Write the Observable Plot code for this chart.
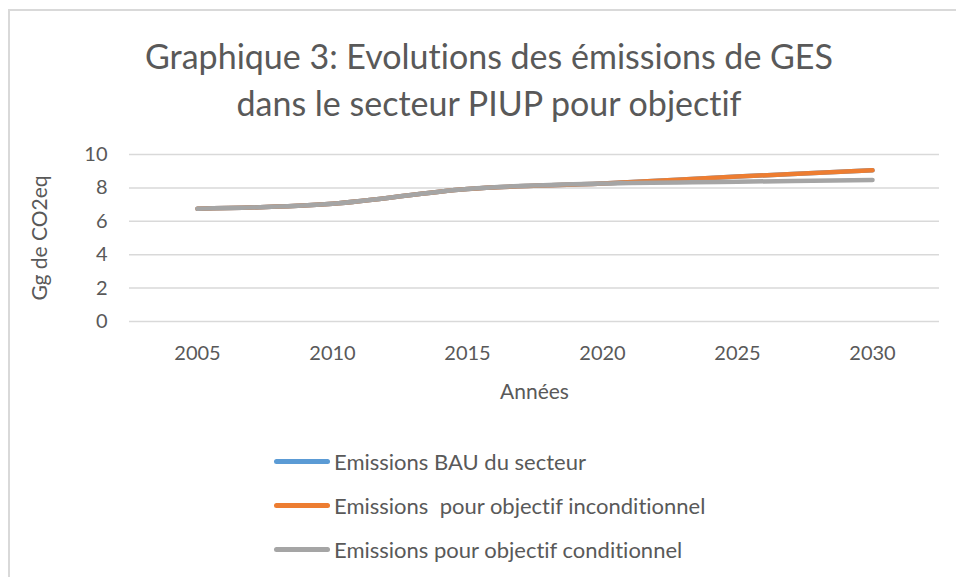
<!DOCTYPE html>
<html>
<head>
<meta charset="utf-8">
<script src="https://cdn.jsdelivr.net/npm/d3@7"></script>
<script src="https://cdn.jsdelivr.net/npm/@observablehq/plot@0.6"></script>
<style>
  html, body { margin: 0; padding: 0; background: #fff; }
  body { width: 956px; height: 577px; position: relative; overflow: hidden; font-family: Lato, "Open Sans", sans-serif; color: #595959; font-variant-ligatures: none; }
  #frame { position: absolute; left: 8px; top: 9px; width: 960px; height: 600px; border: 2px solid #d9d9d9; box-sizing: border-box; }
  #title { position: absolute; left: 0; width: 978px; top: 32px; text-align: center; font-size: 34px; line-height: 47px; color: #595959; }
  #chart { position: absolute; left: 0; top: 130px; }
  #chart svg text { font-variant-ligatures: none; }
  #chart svg g[aria-label="x-axis label"] text, #chart svg g[aria-label="y-axis label"] text { font-size: 21px; }
  #legend { position: absolute; left: 274px; top: 439px; font-size: 22px; color: #595959; }
  .row { display: flex; align-items: center; height: 44px; white-space: pre; }
  .sw { width: 56px; height: 5px; border-radius: 3px; margin-right: 4px; }
</style>
</head>
<body>
<div id="frame"></div>
<div id="title">Graphique 3: Evolutions des émissions de GES<br>dans le secteur PIUP pour objectif</div>
<div id="chart"></div>
<div id="legend"></div>
<script>
const years = ["2005", "2010", "2015", "2020", "2025", "2030"];
const bau = [6.75, 7.05, 7.94, 8.26, 8.68, 9.05];
const inconditionnel = [6.75, 7.05, 7.94, 8.26, 8.68, 9.05];
const conditionnel = [6.75, 7.05, 7.94, 8.26, 8.37, 8.48];
const seriesNames = ["Emissions BAU du secteur", "Emissions  pour objectif inconditionnel", "Emissions pour objectif conditionnel"];
const seriesColors = ["#5b9bd5", "#ed7d31", "#a5a5a5"];
const yTicks = [0, 2, 4, 6, 8, 10];

const allSeries = [bau, inconditionnel, conditionnel];
const data = allSeries.flatMap((vals, i) => years.map((y, j) => ({year: y, value: vals[j], series: seriesNames[i]})));

const chart = Plot.plot({
  width: 956,
  height: 290,
  marginTop: 24,
  marginBottom: 99,
  marginLeft: 129,
  marginRight: 17,
  style: {fontFamily: "Lato, 'Open Sans', sans-serif", fontSize: "20px", color: "#595959", background: "transparent"},
  x: {type: "point", domain: years, padding: 0.5},
  y: {domain: [0, 10]},
  color: {domain: seriesNames, range: seriesColors},
  marks: [
    Plot.gridY(yTicks, {stroke: "#d9d9d9", strokeOpacity: 1, strokeWidth: 1.5}),
    Plot.axisX({tickSize: 0, tickPadding: 24, label: "Années", labelAnchor: "center", labelOffset: 77, labelArrow: "none", fontSize: 20}),
    Plot.axisY({ticks: yTicks, tickSize: 0, tickPadding: 22, label: "Gg de CO2eq", labelAnchor: "center", labelOffset: 97, labelArrow: "none", fontSize: 20}),
    Plot.line(data, {x: "year", y: "value", z: "series", stroke: "series", strokeWidth: 4.5, strokeLinecap: "round", strokeLinejoin: "round", curve: "catmull-rom"})
  ]
});
document.getElementById("chart").appendChild(chart);

const legend = document.getElementById("legend");
seriesNames.forEach((name, i) => {
  const row = document.createElement("div");
  row.className = "row";
  const sw = document.createElement("div");
  sw.className = "sw";
  sw.style.background = seriesColors[i];
  const t = document.createElement("span");
  t.textContent = name;
  row.appendChild(sw);
  row.appendChild(t);
  legend.appendChild(row);
});
</script>
</body>
</html>
